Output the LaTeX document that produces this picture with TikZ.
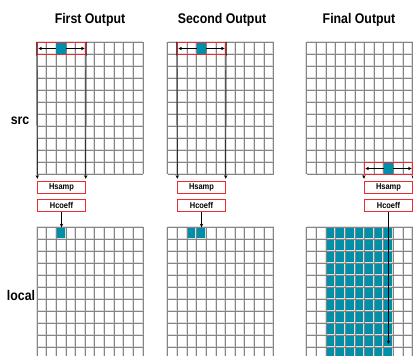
\documentclass[tikz,border=0pt]{standalone}
\usepackage{fontspec}
\setmainfont{Liberation Sans}[FakeStretch=0.88]
\usetikzlibrary{arrows.meta}
\definecolor{tealc}{RGB}{0,143,168}
\definecolor{redc}{RGB}{240,40,50}
\tikzset{
 gridlight/.style={draw=black!13, line width=1.1pt},
 griddark/.style={draw=black!48, line width=0.55pt},
 rbox/.style={draw=redc, line width=1.4pt, inner sep=0pt, minimum width=48pt, minimum height=12pt},
 hbox/.style={minimum width=48pt, minimum height=12pt, inner sep=0pt, text=black, font=\bfseries\fontsize{8.5}{9}\selectfont},
 hframe/.style={draw=redc, line width=1.4pt},
 arr/.style={-{Stealth[length=3.6pt,width=3.4pt]}, line width=0.7pt},
 darr/.style={{Stealth[length=3.6pt,width=3.4pt]}-{Stealth[length=3.6pt,width=3.4pt]}, line width=0.7pt},
 titletext/.style={font=\bfseries\fontsize{14}{16}\selectfont},
 sidetext/.style={font=\bfseries\fontsize{14}{16}\selectfont},
}
\newcommand{\mygrid}[2]{%
 \foreach \i in {0,...,11}{
   \draw[gridlight] ({#1+\i*9.62-0.7},#2) -- ++(0,132);
   \draw[gridlight] (#1,{#2+\i*12-0.7}) -- ++(105.8,0);
 }
 \foreach \i in {0,...,11}{
   \draw[griddark] ({#1+\i*9.62},#2) -- ++(0,132);
   \draw[griddark] (#1,{#2+\i*12}) -- ++(105.8,0);
 }
}
\begin{document}
\begin{tikzpicture}[x=1pt,y=-1pt]
\useasboundingbox (0,0) rectangle (413,356);
\clip (0,0) rectangle (413,356);

% titles and side labels
\node[titletext] (t1) at (90,20) {First Output};
\node[titletext] (t2) at (222,20) {Second Output};
\node[titletext] (t3) at (359,20) {Final Output};
\node[sidetext] (src) at (20,121) {src};
\node[sidetext] (loc) at (21,295) {local};

% local teal fills (under grid)
\fill[tealc] (56.24,227.3) rectangle ++(9.62,12);
\fill[tealc] (186.94,227.3) rectangle ++(19.24,12);
\fill[tealc] (325.94,227.3) rectangle ++(67.34,132);

% grids
\mygrid{37}{42.3}
\mygrid{167.7}{42.3}
\mygrid{306.7}{42.3}
\mygrid{37}{227.3}
\mygrid{167.7}{227.3}
\mygrid{306.7}{227.3}

% red sample windows
\node[rbox] (rb1) at (61.5,48.5) {};
\node[rbox] (rb2) at (201.5,48.5) {};
\node[rbox] (rb3) at (388.5,168.5) {};

\draw[darr] ([xshift=1.5pt]rb1.west) -- ([xshift=-1.5pt]rb1.east);
\draw[darr] ([xshift=1.5pt]rb2.west) -- ([xshift=-1.5pt]rb2.east);
\draw[darr] ([xshift=1.5pt]rb3.west) -- ([xshift=-1.5pt]rb3.east);

% src teal cells
\fill[tealc] (56.24,43.2) rectangle (65.86,53.8);
\fill[tealc] (196.56,43.2) rectangle (206.18,53.8);
\fill[tealc] (383.68,163.2) rectangle (393.3,173.8);

% Hsamp / Hcoeff boxes
\node[hbox] (hs1) at (61.5,187.5) {Hsamp};
\node[hbox] (hc1) at (61.5,205.5) {Hcoeff};
\node[hbox] (hs2) at (201.5,187.5) {Hsamp};
\node[hbox] (hc2) at (201.5,205.5) {Hcoeff};
\node[hbox] (hs3) at (388.5,187.5) {Hsamp};
\node[hbox] (hc3) at (388.5,205.5) {Hcoeff};
\foreach \b in {hs1,hc1,hs2,hc2,hs3,hc3}{
  \draw[hframe] (\b.north west) rectangle (\b.south east);
}

% arrows down to Hsamp
\draw[arr, shorten >=2.5pt] (rb1.north west) -- (hs1.north west);
\draw[arr, shorten >=2.5pt] (rb1.north east) -- (hs1.north east);
\draw[arr, shorten >=2.5pt] (rb2.north west) -- (hs2.north west);
\draw[arr, shorten >=2.5pt] (rb2.north east) -- (hs2.north east);
\draw[arr, shorten >=2.5pt] (rb3.south west) -- (hs3.north west);
\draw[arr, shorten >=2.5pt] (rb3.south east) -- (hs3.north east);

% Hcoeff to local
\coordinate (l1) at (61.5,227.3);
\coordinate (l2) at (201.5,227.3);
\coordinate (l3) at (388.5,344);
\draw[arr] (hc1.south) -- (l1);
\draw[arr] (hc2.south) -- (l2);
\draw[arr] (hc3.south) -- (l3);
\end{tikzpicture}
\end{document}
